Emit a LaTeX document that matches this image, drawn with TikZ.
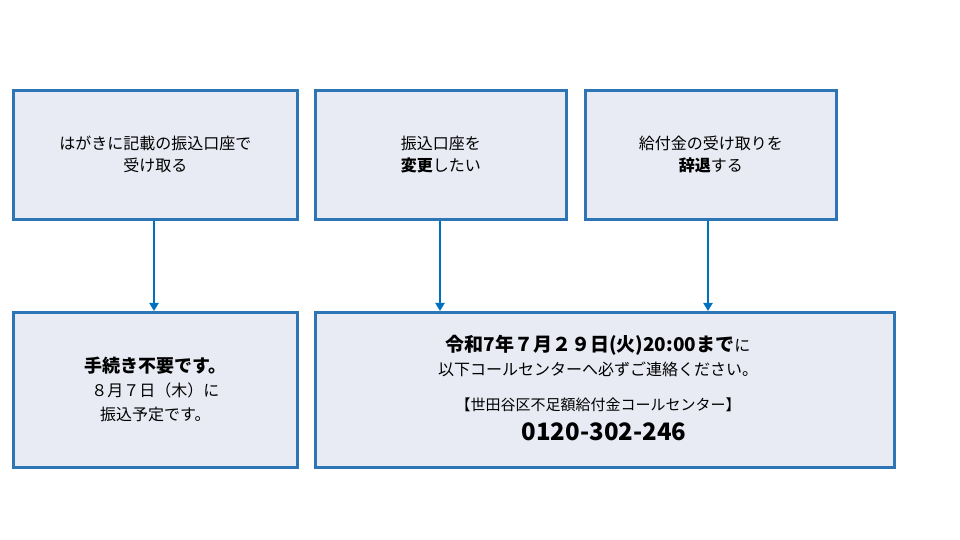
\documentclass[tikz,border=0pt]{standalone}
\usepackage{fontspec}
\setmainfont{Noto Sans CJK JP}
\usepackage{tikz}
\usetikzlibrary{arrows.meta}

\definecolor{boxfill}{HTML}{E9EBF4}
\definecolor{boxline}{HTML}{2E75B6}
\definecolor{arrowblue}{HTML}{0070C0}

\begin{document}
\begin{tikzpicture}[x=0.5pt,y=-0.5pt]
    \tikzstyle{panel} = [rectangle, draw=boxline, line width=1.3pt, fill=boxfill, inner sep=0pt]
    \tikzstyle{label} = [align=center, font=\fontsize{8pt}{11pt}\selectfont]
    \tikzstyle{arrow} = [draw=arrowblue, line width=1.4pt, -{Triangle[length=4pt,width=4.5pt]}, arrowblue]

    \useasboundingbox (0,0) rectangle (960,540);

    \node[panel, minimum width=142pt, minimum height=64.5pt, anchor=north west] (receive) at (12,89) {};
    \node[panel, minimum width=125.5pt, minimum height=64.5pt, anchor=north west] (change) at (314,89) {};
    \node[panel, minimum width=125.5pt, minimum height=64.5pt, anchor=north west] (decline) at (584,89) {};
    \node[panel, minimum width=142pt, minimum height=77.5pt, anchor=north west] (noaction) at (12,311) {};
    \node[panel, minimum width=289.5pt, minimum height=77.5pt, anchor=north west] (contact) at (314,311) {};

    \node[label] at (receive.center) {はがきに記載の振込口座で\\受け取る};
    \node[label] at (change.center) {振込口座を\\\textbf{変更}したい};
    \node[label] at (decline.center) {給付金の受け取りを\\\textbf{辞退}する};
    \node[label, font=\fontsize{8pt}{12pt}\selectfont] at (noaction.center) {{\fontsize{9pt}{12pt}\selectfont\textbf{手続き不要です。}}\\８月７日（木）に\\振込予定です。};

    \node[label, font=\fontsize{8pt}{12pt}\selectfont] (deadline) at (598,356) {{\fontsize{9.5pt}{12pt}\selectfont\textbf{令和7年７月２９日(火)20:00まで}}に\\以下コールセンターへ必ずご連絡ください。};
    \node[label, font=\fontsize{7.5pt}{10pt}\selectfont] (center) at (598,405) {【世田谷区不足額給付金コールセンター】};
    \node[label, font=\fontsize{12pt}{14pt}\selectfont\bfseries] (phone) at (604,432) {0120-302-246};

    \draw[arrow] (receive.south -| 154,0) -- (noaction.north -| 154,0);
    \draw[arrow] (change.south -| 440,0) -- (contact.north -| 440,0);
    \draw[arrow] (decline.south -| 708,0) -- (contact.north -| 708,0);
\end{tikzpicture}
\end{document}
